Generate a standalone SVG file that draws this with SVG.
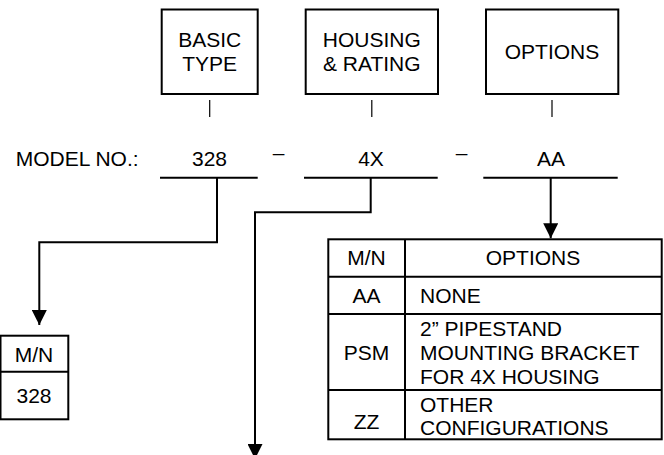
<svg xmlns="http://www.w3.org/2000/svg" width="664" height="455" viewBox="0 0 664 455">
<defs>
<style>
text{font-family:"Liberation Sans",Arial,sans-serif;font-size:21px;fill:#000}
.c{text-anchor:middle}
.box{fill:#fff;stroke:#000;stroke-width:2}
.tick{stroke:#000;stroke-width:1.2}
.ul{stroke:#000;stroke-width:2}
.conn{fill:none;stroke:#000;stroke-width:2}
.grid{stroke:#000;stroke-width:2}
</style>
<marker id="ah" markerUnits="userSpaceOnUse" markerWidth="15" markerHeight="15" refX="15" refY="7.5" orient="auto">
<path d="M0,0 L15,7.5 L0,15 z" fill="#000"/>
</marker>
</defs>
<rect width="664" height="455" fill="#fff"/>

<g id="box-basic-type">
<rect class="box" x="161.7" y="9.5" width="96" height="84.5"/>
<text class="c" x="209.7" y="46.7">BASIC</text>
<text class="c" x="209.7" y="70.7">TYPE</text>
<line class="tick" x1="209.7" y1="100" x2="209.7" y2="117"/>
</g>

<g id="box-housing">
<rect class="box" x="305.7" y="9.5" width="132.3" height="84.5"/>
<text class="c" x="371.8" y="46.7">HOUSING</text>
<text class="c" x="371.8" y="70.7">&amp; RATING</text>
<line class="tick" x1="371.8" y1="100" x2="371.8" y2="117"/>
</g>

<g id="box-options">
<rect class="box" x="486" y="9.5" width="132.3" height="84.5"/>
<text class="c" x="552" y="59.3">OPTIONS</text>
<line class="tick" x1="552" y1="100" x2="552" y2="117"/>
</g>

<g id="model-no">
<text x="15.7" y="165.5">MODEL NO.:</text>
<text class="c" x="209.5" y="165.5">328</text>
<line class="ul" x1="160" y1="177.7" x2="257.7" y2="177.7"/>
<text class="c" x="278.7" y="160">–</text>
<text class="c" x="371" y="165.5">4X</text>
<line class="ul" x1="304" y1="177.7" x2="437.7" y2="177.7"/>
<text class="c" x="461.5" y="160">–</text>
<text class="c" x="551" y="165.5">AA</text>
<line class="ul" x1="483.3" y1="177.7" x2="617.7" y2="177.7"/>
</g>

<g id="connectors">
<path class="conn" d="M217,178 V242.3 H39.3 V325" marker-end="url(#ah)"/>
<path class="conn" d="M370.7,178 V212.3 H255 V459" marker-end="url(#ah)"/>
<path class="conn" d="M550.7,178 V238.3" marker-end="url(#ah)"/>
</g>

<g id="table-basic-type">
<rect class="box" x="0.5" y="335.7" width="67.8" height="83.6"/>
<line class="grid" x1="0.5" y1="371.7" x2="68.3" y2="371.7"/>
<text class="c" x="34" y="361.7">M/N</text>
<text class="c" x="34" y="403.3">328</text>
</g>

<g id="table-options">
<rect class="box" x="328.3" y="239.3" width="333.4" height="200"/>
<line class="grid" x1="405" y1="239.3" x2="405" y2="439.3"/>
<line class="grid" x1="328.3" y1="276.7" x2="661.7" y2="276.7"/>
<line class="grid" x1="328.3" y1="314" x2="661.7" y2="314"/>
<line class="grid" x1="328.3" y1="390" x2="661.7" y2="390"/>
<text class="c" x="366.5" y="265">M/N</text>
<text class="c" x="533" y="265">OPTIONS</text>
<text class="c" x="366.5" y="303.3">AA</text>
<text x="420" y="303.3">NONE</text>
<text class="c" x="366.5" y="359.5">PSM</text>
<text x="420" y="335.5">2” PIPESTAND</text>
<text x="420" y="359.5">MOUNTING BRACKET</text>
<text x="420" y="383.5">FOR 4X HOUSING</text>
<text class="c" x="366.5" y="429">ZZ</text>
<text x="420" y="411.7">OTHER</text>
<text x="420" y="435">CONFIGURATIONS</text>
</g>
</svg>
